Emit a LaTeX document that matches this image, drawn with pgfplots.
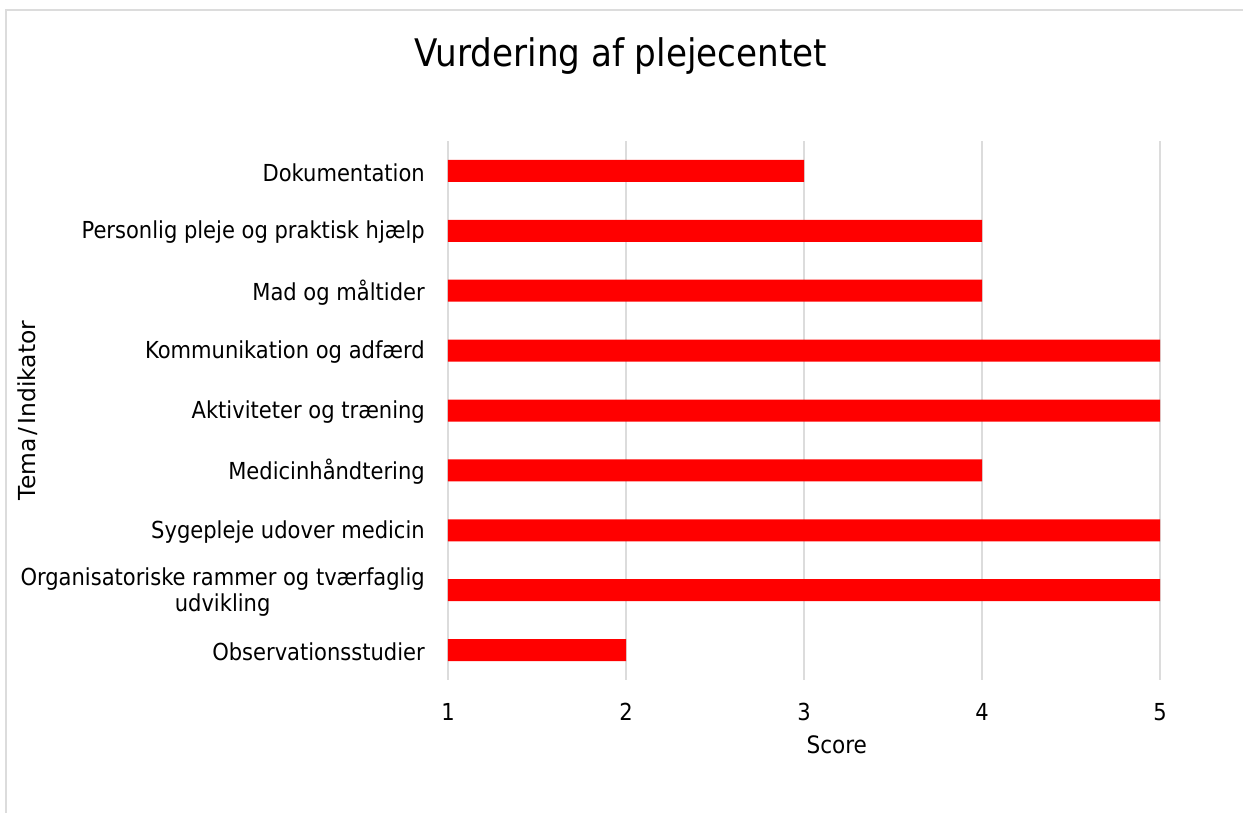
\documentclass[border=0pt]{standalone}
\usepackage{fontspec}
\IfFontExistsTF{DejaVu Sans Condensed}{\setmainfont{DejaVu Sans Condensed}}{\setmainfont{DejaVu Sans}}
\newfontfamily\widefont{DejaVu Sans}
\usepackage{pgfplots}
\pgfplotsset{compat=1.18}
\definecolor{gridgray}{RGB}{220,220,220}
\definecolor{barred}{RGB}{255,0,0}
\begin{document}
\begin{tikzpicture}
\path[use as bounding box] (0pt,0pt) rectangle (1243pt,-812pt);
\draw[gridgray, line width=1.5pt] (6pt,-820pt) -- (6pt,-10pt) -- (1250pt,-10pt);
\begin{axis}[
  at={(448pt,-680pt)}, anchor=south west,
  width=712pt, height=539pt, scale only axis,
  xmin=1, xmax=5, ymin=-0.5, ymax=8.5,
  y dir=reverse,
  xbar, bar width=22pt,
  axis line style={draw=none},
  major tick length=0pt,
  xtick={1,2,3,4,5},
  ytick={0,1,2,3,4,5,6,7,8},
  yticklabels={Dokumentation,Personlig pleje og praktisk hjælp,Mad og måltider,Kommunikation og adfærd,Aktiviteter og træning,Medicinhåndtering,Sygepleje udover medicin,{Organisatoriske rammer og tværfaglig\\udvikling},Observationsstudier},
  xmajorgrids, grid style={gridgray, line width=1.5pt},
  /pgf/number format/assume math mode=true,
  xticklabel style={anchor=center, yshift=-32pt, font=\fontsize{23.4}{26}\selectfont},
  yticklabel style={anchor=east, inner sep=0pt, xshift=-23pt, yshift=-1.5pt, align=center, font=\fontsize{23.4}{26}\selectfont},
  title={Vurdering af plejecentet},
  title style={at={(0.243,1.146)}, anchor=center, font=\fontsize{38}{44}\selectfont},
  xlabel={Score},
  xlabel style={at={(0.546,-0.1206)}, anchor=center, font=\fontsize{24}{26}\selectfont},
  ylabel={Tema\kern3pt/\kern3pt Indikator},
  ylabel style={at={(-0.590,0.5)}, anchor=center, rotate=0, font=\widefont\fontsize{23.4}{26}\selectfont},
  clip=true,
]
\addplot[fill=barred, draw=none] coordinates {
(3,0) (4,1) (4,2) (5,3) (5,4) (4,5) (5,6) (5,7) (2,8)
};
\end{axis}
\end{tikzpicture}
\end{document}
